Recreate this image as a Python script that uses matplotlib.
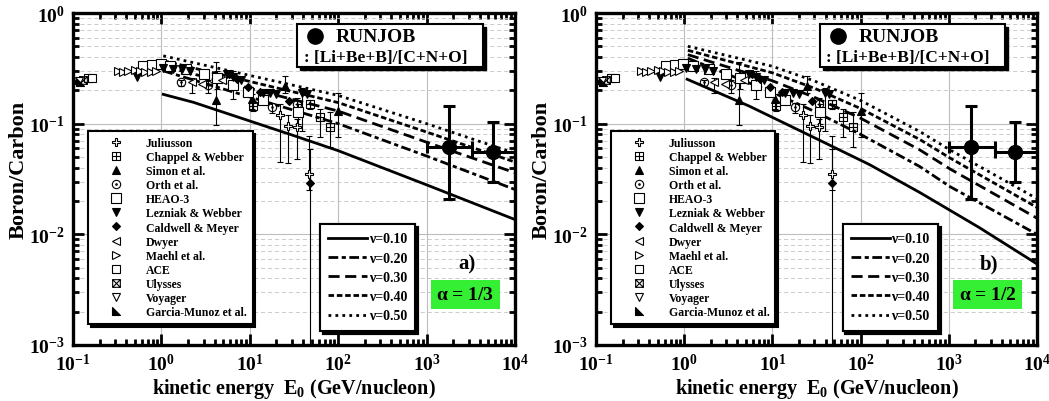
import numpy as np
import matplotlib
matplotlib.use('Agg')
import matplotlib.pyplot as plt
import matplotlib.transforms as mtransforms
from matplotlib.path import Path
from matplotlib.lines import Line2D
from matplotlib.patches import Rectangle
from matplotlib.ticker import LogLocator, FuncFormatter, NullFormatter

plt.rcParams['font.family'] = ['Liberation Serif', 'DejaVu Serif']
plt.rcParams['font.weight'] = 'bold'
plt.rcParams['axes.labelweight'] = 'bold'
plt.rcParams['mathtext.fontset'] = 'custom'
plt.rcParams['mathtext.rm'] = 'Liberation Serif:bold'
plt.rcParams['mathtext.it'] = 'Liberation Serif:bold:italic'
plt.rcParams['mathtext.bf'] = 'Liberation Serif:bold'
plt.rcParams['lines.scale_dashes'] = False

# ---- measured data (same in both panels) ----
juliusson_e = [22, 27, 34, 47]
juliusson_r = [0.121, 0.095, 0.093, 0.035]
juliusson_lo = [0.045, 0.044, 0.048, 0.025]
juliusson_hi = [0.150, 0.120, 0.110, 0.077]

chappel_e = [11, 48, 63, 81]
chappel_r = [0.144, 0.150, 0.114, 0.093]
chappel_lo = [0.130, 0.135, 0.075, 0.062]
chappel_hi = [0.160, 0.165, 0.135, 0.127]

simon_e = [4.2, 10.7, 25, 100]
simon_r = [0.163, 0.166, 0.218, 0.130]
simon_lo = [0.097, 0.135, 0.190, 0.075]
simon_hi = [0.360, 0.185, 0.270, 0.190]

orth_e = [1.67, 3.4, 18, 34]
orth_r = [0.236, 0.222, 0.141, 0.150]
orth_lo = [0.220, 0.190, 0.125, 0.130]
orth_hi = [0.250, 0.250, 0.155, 0.170]

heao_e = [0.62, 0.78, 0.98, 1.25, 1.9, 3.0, 4.3, 6.5, 9.5, 14, 35]
heao_r = [0.330, 0.340, 0.345, 0.330, 0.310, 0.280, 0.257, 0.225, 0.195, 0.165, 0.127]
heao_lo = [0.320, 0.330, 0.335, 0.320, 0.300, 0.270, 0.205, 0.210, 0.180, 0.150, 0.100]
heao_hi = [0.340, 0.350, 0.355, 0.340, 0.320, 0.290, 0.300, 0.240, 0.210, 0.180, 0.150]

lezniak_e = [0.53, 1.05, 1.35, 1.7, 2.1, 5.5, 6.5, 8.0, 14, 17, 20, 39, 44]
lezniak_r = [0.263, 0.320, 0.310, 0.310, 0.300, 0.280, 0.265, 0.250, 0.190, 0.190, 0.185, 0.190, 0.185]
lezniak_lo = [None, None, None, None, None, None, 0.166, None, None, None, None, 0.085, None]
lezniak_hi = [None, None, None, None, None, None, 0.300, None, None, None, None, 0.210, None]

caldwell_e = [5.8, 7.2, 9.5, 13, 28, 48]
caldwell_r = [0.280, 0.255, 0.215, 0.195, 0.160, 0.029]
caldwell_lo = [None, None, None, None, None, 0.00102]
caldwell_hi = [None, None, None, None, None, 0.059]

dwyer_e = [2.2, 2.9, 4.8]
dwyer_r = [0.236, 0.230, 0.250]
dwyer_lo = [0.190, None, None]
dwyer_hi = [0.260, None, None]

maehl_e = [0.32, 0.37, 0.42, 0.50, 0.58, 0.66, 0.76, 0.88]
maehl_r = [0.300, 0.292, 0.300, 0.305, 0.300, 0.292, 0.292, 0.300]

ace_e = [0.148, 0.165]
ace_r = [0.257, 0.258]

ulysses_e = [0.13]
ulysses_r = [0.250]

voyager_e = [0.118]
voyager_r = [0.245]

garcia_e = [0.105, 0.12]
garcia_r = [0.250, 0.240]

# RUNJOB
runjob_e = [1770, 5700]
runjob_r = [0.061, 0.056]
runjob_e_lo = [1000, 3300]
runjob_e_hi = [3300, 10000]
runjob_r_lo = [0.021, 0.030]
runjob_r_hi = [0.144, 0.103]

# ---- model curves ----
nu_labels = ['\u03bd=0.10', '\u03bd=0.20', '\u03bd=0.30', '\u03bd=0.40', '\u03bd=0.50']

# alpha = 1/3
a13_e_nu10 = [1.05, 2.3, 30, 100, 1000, 10000]
a13_r_nu10 = [0.184, 0.156, 0.079, 0.057, 0.028, 0.0136]
a13_e = [1.05, 100, 1000, 10000]
a13_r_nu20 = [0.30, 0.100, 0.051, 0.0254]
a13_r_nu30 = [0.33, 0.130, 0.068, 0.036]
a13_r_nu40 = [0.37, 0.155, 0.084, 0.045]
a13_r_nu50 = [0.41, 0.180, 0.100, 0.054]

# alpha = 1/2
a12_e_nu10 = [1.08, 5.47, 26.3, 126, 468, 2220, 10000]
a12_r_nu10 = [0.252, 0.144, 0.0785, 0.0427, 0.0239, 0.0115, 0.0054]
a12_e = [1.1, 10, 30, 100, 468, 1030, 10000]
a12_r_nu20 = [0.39, 0.192, 0.129, 0.080, 0.041, 0.027, 0.0100]
a12_r_nu30 = [0.42, 0.244, 0.173, 0.112, 0.058, 0.039, 0.0140]
a12_r_nu40 = [0.46, 0.288, 0.209, 0.137, 0.072, 0.049, 0.0175]
a12_r_nu50 = [0.50, 0.330, 0.243, 0.162, 0.085, 0.058, 0.0210]

# custom markers
M, L, C = Path.MOVETO, Path.LINETO, Path.CLOSEPOLY
boxplus = Path([(-1, -1), (1, -1), (1, 1), (-1, 1), (-1, -1), (0, -1), (0, 1), (-1, 0), (1, 0)],
               [M, L, L, L, L, M, L, M, L])
boxtimes = Path([(-1, -1), (1, -1), (1, 1), (-1, 1), (-1, -1), (-1, -1), (1, 1), (-1, 1), (1, -1)],
                [M, L, L, L, L, M, L, M, L])
odot = Path.make_compound_path(Path.unit_circle(), Path.circle((0, 0), 0.18))
corner_tri = Path([(-1, 1), (-1, -1), (1, -1), (-1, 1)], [M, L, L, C])

# name, e, r, lo, hi, marker, facecolor, size
experiments = [
    ('Juliusson', juliusson_e, juliusson_r, juliusson_lo, juliusson_hi, 'P', 'white', 6),
    ('Chappel & Webber', chappel_e, chappel_r, chappel_lo, chappel_hi, boxplus, 'none', 6),
    ('Simon et al.', simon_e, simon_r, simon_lo, simon_hi, '^', 'black', 6),
    ('Orth et al.', orth_e, orth_r, orth_lo, orth_hi, odot, 'none', 6),
    ('HEAO-3', heao_e, heao_r, heao_lo, heao_hi, 's', 'white', 7),
    ('Lezniak & Webber', lezniak_e, lezniak_r, lezniak_lo, lezniak_hi, 'v', 'black', 6),
    ('Caldwell & Meyer', caldwell_e, caldwell_r, caldwell_lo, caldwell_hi, 'D', 'black', 4.5),
    ('Dwyer', dwyer_e, dwyer_r, dwyer_lo, dwyer_hi, '<', 'white', 6),
    ('Maehl et al.', maehl_e, maehl_r, None, None, '>', 'white', 6),
    ('ACE', ace_e, ace_r, None, None, 's', 'white', 5.5),
    ('Ulysses', ulysses_e, ulysses_r, None, None, boxtimes, 'none', 5.5),
    ('Voyager', voyager_e, voyager_r, None, None, 'v', 'white', 6),
    ('Garcia-Munoz et al.', garcia_e, garcia_r, None, None, corner_tri, 'black', 6),
]

line_styles = ['-', (0, (7, 2.5, 3, 2.5)), (0, (8, 4)), (0, (4, 2)), (0, (2, 3))]


def decade(v, pos):
    return r'$10^{%d}$' % int(round(np.log10(v)))


def draw_panel(ax, e10, r10, e_rest, r_rest, tag, alpha_text):
    ax.set_xscale('log')
    ax.set_yscale('log')
    ax.set_xlim(0.1, 1e4)
    ax.set_ylim(1e-3, 1)

    ax.xaxis.set_major_locator(LogLocator(base=10, numticks=10))
    ax.xaxis.set_minor_locator(LogLocator(base=10, subs=np.arange(2, 10), numticks=20))
    ax.yaxis.set_major_locator(LogLocator(base=10, numticks=10))
    ax.yaxis.set_minor_locator(LogLocator(base=10, subs=np.arange(2, 10), numticks=20))
    ax.xaxis.set_major_formatter(FuncFormatter(decade))
    ax.yaxis.set_major_formatter(FuncFormatter(decade))
    ax.xaxis.set_minor_formatter(NullFormatter())
    ax.yaxis.set_minor_formatter(NullFormatter())

    ax.grid(which='major', color='#bdbdbd', lw=0.8, ls='-')
    ax.yaxis.grid(which='minor', color='#c4c4c4', lw=0.6, ls=(0, (3, 2)))
    ax.set_axisbelow(True)

    ax.tick_params(which='both', direction='in', top=True, right=True, width=2, labelsize=14)
    ax.tick_params(which='major', length=8, pad=6)
    ax.tick_params(which='minor', length=4)
    for s in ax.spines.values():
        s.set_linewidth(2.4)

    # model curves
    ax.plot(e10, r10, color='black', lw=2.0, ls=line_styles[0])
    for rr, ls in zip(r_rest, line_styles[1:]):
        ax.plot(e_rest, rr, color='black', lw=2.0, ls=ls)

    # measured points
    for name, e, r, lo, hi, mk, fc, ms in experiments:
        if lo is not None:
            idx = [i for i in range(len(e)) if lo[i] is not None]
            ee = np.array([e[i] for i in idx])
            rr = np.array([r[i] for i in idx])
            ll = np.array([lo[i] for i in idx])
            hh = np.array([hi[i] for i in idx])
            ax.errorbar(ee, rr, yerr=[rr - ll, hh - rr], fmt='none', ecolor='black',
                        elinewidth=0.8, capsize=2.5, capthick=0.8, zorder=3)
        ax.plot(e, r, ls='none', marker=mk, mfc=fc, mec='black', ms=ms, mew=0.8, zorder=4)

    # RUNJOB
    re = np.array(runjob_e)
    rv = np.array(runjob_r)
    ax.errorbar(re, rv,
                xerr=[re - np.array(runjob_e_lo), np.array(runjob_e_hi) - re],
                yerr=[rv - np.array(runjob_r_lo), np.array(runjob_r_hi) - rv],
                fmt='o', color='black', ms=10, elinewidth=2.2, capsize=4, capthick=2.2, zorder=5)

    # experiment legend
    handles = [Line2D([], [], ls='none', marker=mk, mfc=fc, mec='black', ms=ms, mew=0.8)
               for name, e, r, lo, hi, mk, fc, ms in experiments]
    leg1 = ax.legend(handles, [x[0] for x in experiments], loc='upper left',
                     bbox_to_anchor=(0.034, 0.645), fontsize=8.5, labelspacing=0.18,
                     handlelength=3.8, handletextpad=0.6, borderpad=0.5, borderaxespad=0,
                     fancybox=False, edgecolor='black', framealpha=1,
                     shadow={'color': 'black', 'alpha': 1})
    leg1.get_frame().set_linewidth(1.5)
    ax.add_artist(leg1)

    # model legend
    mhandles = [Line2D([], [], color='black', lw=2.0, ls=ls) for ls in line_styles]
    leg2 = ax.legend(mhandles, nu_labels, loc='upper left', bbox_to_anchor=(0.559, 0.364),
                     fontsize=10, labelspacing=0.45, handlelength=2.8, handletextpad=0.1,
                     borderpad=0.6, borderaxespad=0, fancybox=False, edgecolor='black',
                     framealpha=1, shadow={'color': 'black', 'alpha': 1})
    leg2.get_frame().set_linewidth(1.5)
    ax.add_artist(leg2)

    # RUNJOB box
    x0, x1, y0, y1 = 0.507, 0.928, 0.837, 0.967
    shadow_tr = mtransforms.offset_copy(ax.transAxes, fig=ax.figure, x=3, y=-3, units='dots')
    ax.add_patch(Rectangle((x0, y0), x1 - x0, y1 - y0, transform=shadow_tr,
                           facecolor='black', edgecolor='black', zorder=9))
    ax.add_patch(Rectangle((x0, y0), x1 - x0, y1 - y0, transform=ax.transAxes,
                           facecolor='white', edgecolor='black', lw=1.5, zorder=10))
    ax.plot([0.548], [0.931], marker='o', color='black', ms=11, transform=ax.transAxes,
            zorder=11, clip_on=False)
    ax.text(0.595, 0.929, 'RUNJOB', transform=ax.transAxes, fontsize=14, va='center',
            ha='left', zorder=11)
    ax.text(0.522, 0.866, ': [Li+Be+B]/[C+N+O]', transform=ax.transAxes, fontsize=12.5,
            va='center', ha='left', zorder=11)

    ax.text(0.891, 0.245, tag, transform=ax.transAxes, fontsize=15, ha='center', va='center')
    ax.text(0.888, 0.152, alpha_text, transform=ax.transAxes, fontsize=14, ha='center',
            va='center', bbox=dict(facecolor='#35ef35', edgecolor='none', pad=4))

    ax.set_xlabel(r'kinetic energy  E$_0$ (GeV/nucleon)', fontsize=14.5, labelpad=1)
    ax.set_ylabel('Boron/Carbon', fontsize=16, labelpad=4)
    ax.yaxis.set_label_coords(-0.10, 0.53)


fig = plt.figure(figsize=(10.49, 4.02), dpi=100)
ax1 = fig.add_axes([73 / 1049, 1 - 346 / 402, 442 / 1049, 332 / 402])
ax2 = fig.add_axes([596 / 1049, 1 - 346 / 402, 441 / 1049, 332 / 402])

draw_panel(ax1, a13_e_nu10, a13_r_nu10, a13_e,
           [a13_r_nu20, a13_r_nu30, a13_r_nu40, a13_r_nu50], 'a)', r'$\mathbf{\alpha}$ = 1/3')
draw_panel(ax2, a12_e_nu10, a12_r_nu10, a12_e,
           [a12_r_nu20, a12_r_nu30, a12_r_nu40, a12_r_nu50], 'b)', r'$\mathbf{\alpha}$ = 1/2')

fig.savefig('out.png', dpi=100)
